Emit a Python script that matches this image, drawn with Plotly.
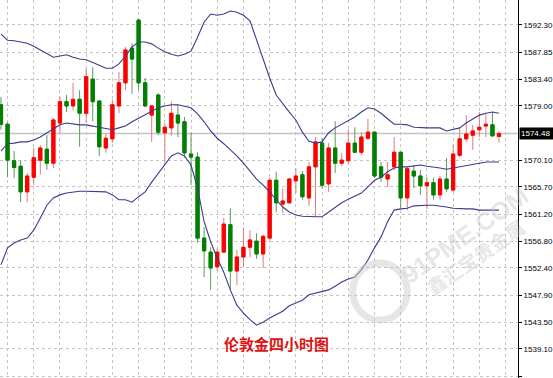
import plotly.graph_objects as go

# ---- data ----
opens  = [1579.2,1576.0,1570.0,1569.1,1564.9,1567.3,1570.1,1571.9,1569.6,1576.2,
          1579.7,1579.0,1580.1,1577.8,1583.4,1579.8,1572.1,1573.6,1579.0,1582.8,
          1588.5,1593.1,1582.8,1577.5,1580.8,1574.6,1575.4,1577.5,1576.4,1571.1,
          1570.6,1557.3,1555.0,1552.6,1555.0,1559.5,1551.9,1554.2,1555.8,1556.8,
          1554.7,1557.3,1566.8,1562.9,1563.1,1566.7,1567.7,1563.9,1569.0,1572.9,
          1566.2,1572.1,1569.6,1570.0,1572.9,1571.4,1573.7,1574.7,1569.0,1567.0,
          1569.0,1571.4,1563.9,1568.3,1567.5,1565.9,1566.4,1564.4,1567.0,1565.2,
          1570.9,1573.6,1574.2,1575.1,1575.7,1575.9,1574.0]
highs  = [1580.5,1576.3,1571.6,1570.1,1568.0,1572.1,1572.6,1574.2,1577.0,1580.5,
          1580.8,1582.8,1581.6,1585.2,1585.4,1580.0,1574.4,1580.0,1584.6,1588.7,
          1589.3,1593.3,1583.6,1579.1,1581.1,1576.2,1579.7,1579.2,1577.2,1574.6,
          1571.4,1559.1,1555.8,1555.6,1560.6,1562.2,1555.4,1559.0,1558.6,1558.1,
          1557.8,1567.2,1568.2,1565.5,1567.2,1568.8,1568.3,1569.8,1573.9,1573.7,
          1572.9,1576.5,1571.3,1575.1,1575.5,1574.7,1576.9,1574.8,1569.8,1569.8,
          1573.9,1571.5,1569.0,1569.3,1568.5,1567.3,1567.2,1567.5,1570.5,1572.6,
          1575.4,1577.5,1575.9,1578.0,1577.7,1578.0,1574.9]
lows   = [1575.1,1567.3,1567.2,1563.2,1563.2,1566.0,1567.7,1568.5,1568.8,1574.6,
          1578.0,1578.3,1572.3,1576.2,1576.5,1570.8,1571.3,1572.9,1577.8,1581.6,
          1581.0,1581.6,1578.8,1573.1,1574.2,1569.8,1574.1,1573.9,1570.5,1566.0,
          1556.5,1550.9,1548.8,1551.9,1554.9,1548.8,1549.6,1552.6,1554.2,1553.9,
          1552.4,1557.0,1561.6,1561.4,1562.9,1564.7,1563.6,1562.6,1560.8,1565.5,
          1564.9,1568.0,1569.1,1569.5,1571.3,1570.9,1573.4,1567.2,1566.5,1565.7,
          1568.5,1562.2,1561.9,1565.5,1564.4,1562.1,1563.6,1563.6,1564.9,1564.9,
          1570.6,1573.1,1571.8,1573.9,1573.9,1573.9,1573.0]
closes = [1576.0,1570.1,1568.9,1564.9,1567.5,1570.5,1572.1,1569.6,1576.7,1579.7,
          1579.0,1580.1,1577.8,1583.8,1579.7,1572.3,1573.7,1579.2,1582.8,1588.2,
          1586.7,1582.8,1579.0,1579.0,1574.7,1575.5,1577.8,1576.2,1571.3,1570.6,
          1557.3,1555.2,1552.4,1555.0,1559.6,1551.9,1554.2,1555.8,1557.0,1554.7,
          1557.6,1566.8,1563.1,1563.4,1567.0,1567.5,1564.1,1569.0,1573.1,1566.0,
          1572.1,1569.6,1570.1,1572.9,1571.4,1573.9,1574.7,1567.5,1567.3,1567.7,
          1571.4,1563.9,1568.7,1567.5,1565.9,1566.4,1564.4,1567.0,1565.4,1571.1,
          1573.6,1574.4,1574.9,1575.5,1576.0,1574.1,1574.48]

upper_band = [1590.8,1589.8,1589.7,1589.5,1589.3,1588.8,1588.2,1587.5,1587.0,1587.2,
              1587.4,1587.0,1586.7,1586.6,1586.2,1585.7,1585.2,1585.2,1585.9,1587.2,
              1588.7,1589.5,1589.5,1589.2,1588.5,1587.9,1587.5,1587.2,1587.5,1588.0,
              1590.3,1592.8,1594.1,1593.9,1594.1,1594.6,1594.4,1593.9,1593.0,1589.8,
              1586.9,1583.6,1580.8,1579.3,1578.0,1576.7,1574.7,1573.2,1572.9,1573.1,
              1574.6,1575.4,1576.0,1576.5,1577.2,1578.0,1578.7,1578.5,1577.8,1576.9,
              1576.0,1576.0,1575.9,1575.5,1575.4,1575.4,1575.4,1575.4,1574.9,1575.1,
              1575.4,1576.2,1576.9,1577.5,1577.8,1578.0,1577.8]
middle_band = [1571.6,1572.8,1572.9,1573.1,1573.1,1573.4,1573.9,1574.6,1575.2,1575.9,
               1576.2,1576.0,1575.9,1575.9,1575.7,1575.5,1575.2,1575.1,1575.4,1575.7,
               1576.4,1577.0,1577.5,1578.2,1578.7,1579.0,1579.2,1579.2,1579.0,1578.7,
               1577.7,1576.4,1574.9,1573.7,1572.8,1571.8,1570.8,1569.6,1568.3,1567.0,
               1566.0,1564.9,1563.6,1562.4,1561.6,1561.1,1560.9,1560.8,1560.8,1560.8,
               1561.6,1562.4,1563.1,1563.7,1564.2,1564.7,1565.7,1566.8,1567.3,1568.2,
               1568.8,1569.0,1569.0,1569.1,1569.3,1569.1,1569.0,1568.8,1568.6,1568.8,
               1569.1,1569.3,1569.5,1569.6,1569.8,1569.8,1569.8]
lower_band = [1552.9,1555.7,1556.5,1557.0,1557.3,1558.6,1560.6,1562.7,1563.9,1564.4,
              1564.7,1564.9,1565.0,1565.0,1565.0,1564.9,1564.9,1564.4,1563.6,1563.6,
              1563.2,1564.1,1564.9,1566.5,1568.0,1569.5,1570.8,1571.3,1570.8,1569.3,
              1565.5,1560.0,1556.7,1554.0,1551.7,1548.8,1546.3,1545.0,1543.9,1543.0,
              1543.5,1544.2,1544.8,1545.3,1546.2,1546.6,1547.1,1548.0,1548.3,1548.5,
              1548.8,1549.4,1550.1,1550.6,1550.9,1552.1,1553.7,1555.7,1557.5,1560.0,
              1561.9,1562.1,1562.2,1562.6,1562.7,1562.7,1562.7,1562.6,1562.4,1562.2,
              1562.1,1562.1,1562.1,1561.9,1561.9,1561.9,1561.9]

y_ticks = [1592.30,1587.85,1583.40,1579.00,1570.10,1565.70,1561.20,1556.80,
           1552.40,1547.90,1543.50,1539.10,1534.60]
current_price = 1574.48
title_text = "伦敦金四小时图"

bars = list(range(len(opens)))
body_top = [max(o, c) for o, c in zip(opens, closes)]
body_bot = [min(o, c) for o, c in zip(opens, closes)]

UP, DOWN = "#ff0000", "#008000"
UP_W, DOWN_W = "#e07a7a", "#5a9a5a"
BAND = "#3b3b8c"
GRID = "#c4c4c4"
WM = "rgba(200,200,200,0.45)"

fig = go.Figure()

# wicks (lighter)
fig.add_trace(go.Candlestick(
    x=bars, open=opens, high=highs, low=lows, close=closes,
    increasing=dict(line=dict(color=UP_W, width=1), fillcolor=UP),
    decreasing=dict(line=dict(color=DOWN_W, width=1), fillcolor=DOWN),
    whiskerwidth=0, showlegend=False, hoverinfo="skip"))
# solid bodies
fig.add_trace(go.Candlestick(
    x=bars, open=opens, high=body_top, low=body_bot, close=closes,
    increasing=dict(line=dict(color=UP, width=1), fillcolor=UP),
    decreasing=dict(line=dict(color=DOWN, width=1), fillcolor=DOWN),
    whiskerwidth=0, showlegend=False, hoverinfo="skip"))

for band in (upper_band, middle_band, lower_band):
    fig.add_trace(go.Scatter(x=bars, y=band, mode="lines",
                             line=dict(color=BAND, width=1.1),
                             showlegend=False, hoverinfo="skip"))

# current price line
fig.add_shape(type="line", xref="paper", x0=0, x1=1, yref="y",
              y0=current_price, y1=current_price,
              line=dict(color="#c4c4c4", width=1.5), layer="below")

fig.add_annotation(xref="paper", x=1, xanchor="left", xshift=1,
                   yref="y", y=current_price, yanchor="middle",
                   text=f"{current_price:.2f}", showarrow=False,
                   bgcolor="black", borderpad=1, width=33, align="left",
                   font=dict(family="Liberation Sans", size=8, color="white"))

# title
fig.add_annotation(xref="paper", yref="paper", x=0.533, y=0.091,
                   text=f"<b>{title_text}</b>", showarrow=False,
                   xanchor="center", yanchor="middle",
                   font=dict(family="Noto Sans CJK SC", size=15, color="#e01010"))

# faint watermark
fig.add_shape(type="circle", xref="paper", yref="paper",
              x0=0.681, x1=0.786, y0=0.153, y1=0.304,
              line=dict(color=WM, width=7), layer="above")
fig.add_annotation(xref="paper", yref="paper", x=0.897, y=0.379,
                   xanchor="center", yanchor="middle",
                   text="<b>91PME.COM</b>", showarrow=False, textangle=-35,
                   font=dict(family="Liberation Sans", size=25, color=WM))
fig.add_annotation(xref="paper", yref="paper", x=0.917, y=0.322,
                   xanchor="center", yanchor="middle",
                   text="<b>鑫汇宝贵金属</b>", showarrow=False, textangle=-35,
                   font=dict(family="Noto Sans CJK SC", size=19, color=WM))

fig.update_layout(
    width=553, height=378,
    margin=dict(l=0, r=35, t=0, b=0),
    paper_bgcolor="white", plot_bgcolor="white",
    showlegend=False,
    xaxis=dict(range=[-0.15, 78.9], rangeslider=dict(visible=False),
               tickvals=list(range(1, 78, 4)), showticklabels=False, ticks="",
               showgrid=True, gridcolor=GRID, griddash="dot", gridwidth=1,
               zeroline=False, showline=False, fixedrange=True),
    yaxis=dict(range=[1534.33, 1596.4], side="right",
               tickvals=y_ticks, ticktext=[f"{v:.2f}" for v in y_ticks],
               tickfont=dict(family="Liberation Sans", size=8, color="black"),
               ticks="outside", ticklen=3, tickcolor="black",
               showline=True, linecolor="black", linewidth=1,
               showgrid=True, gridcolor=GRID, griddash="dot", gridwidth=1,
               zeroline=False, fixedrange=True),
)

fig.write_html("out.html")
